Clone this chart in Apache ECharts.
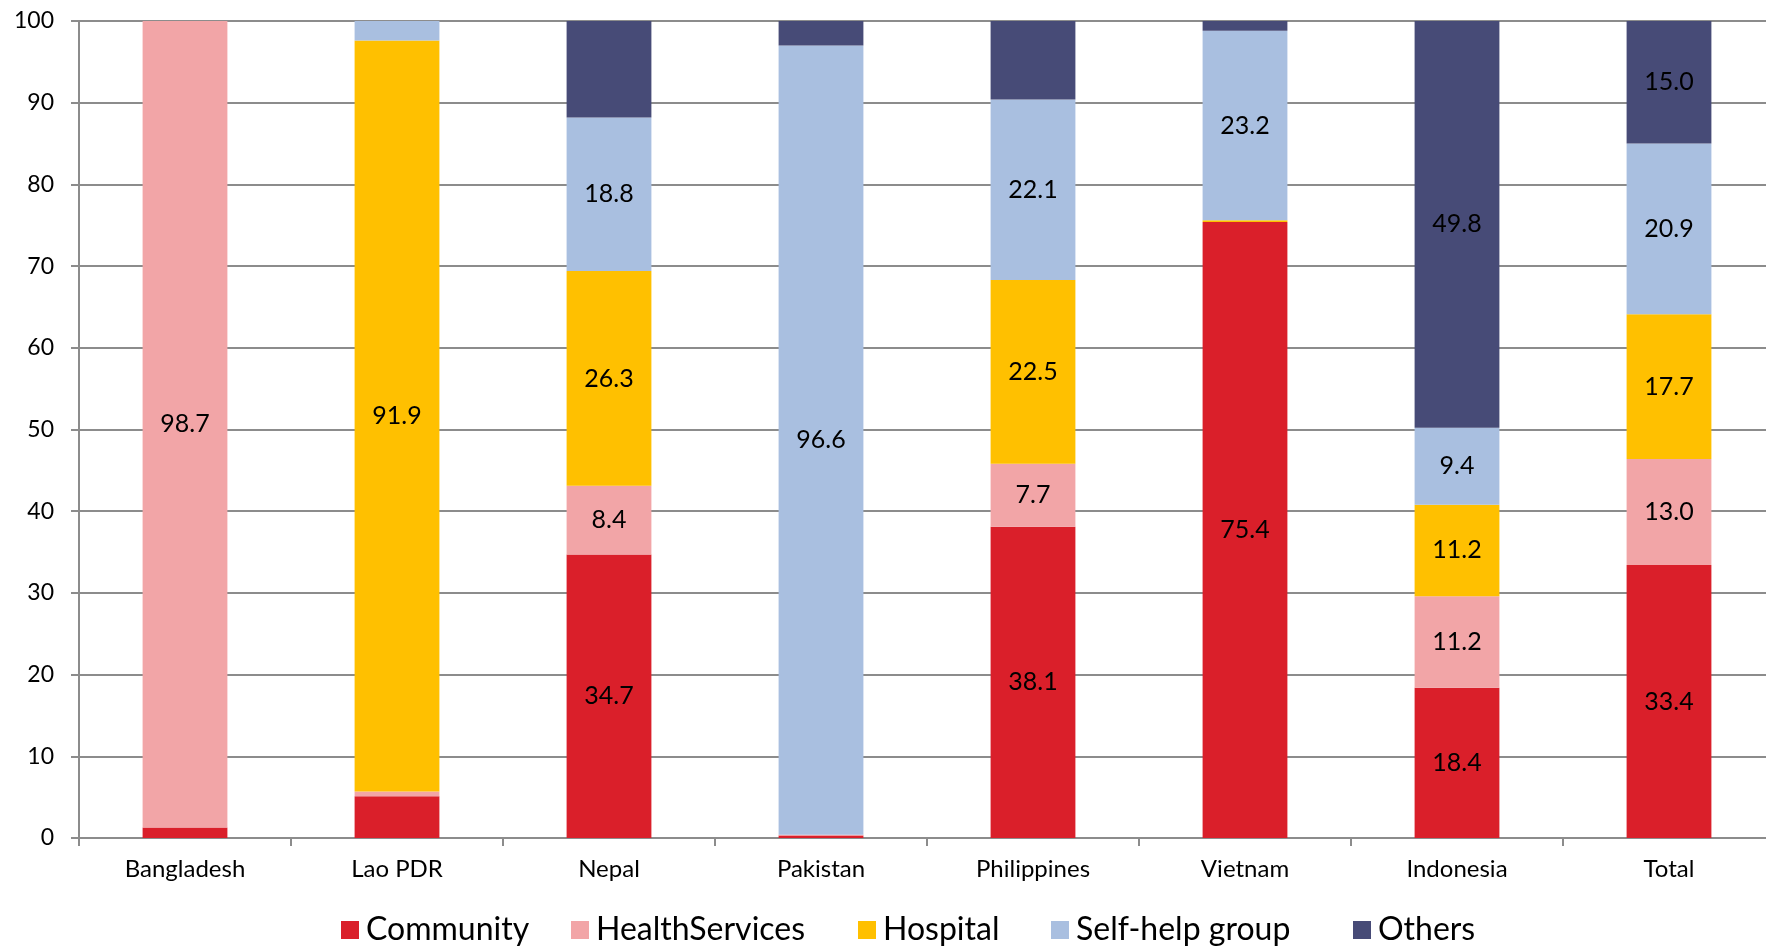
<!DOCTYPE html>
<html>
<head>
<meta charset="utf-8">
<script src="https://cdn.jsdelivr.net/npm/echarts@6/dist/echarts.min.js"></script>
<style>
  html, body { margin: 0; padding: 0; background: #fff; overflow: hidden; }
  /* plot area runs past the right edge of the page, so the canvas is a little wider */
  #chart { width: 1776px; height: 947px; }
</style>
</head>
<body>
<div id="chart"></div>
<script>
// Share of respondents by source of support (%), per country
const categories = ['Bangladesh', 'Lao PDR', 'Nepal', 'Pakistan', 'Philippines', 'Vietnam', 'Indonesia', 'Total'];
const community      = [1.3, 5.1, 34.7, 0.3, 38.1, 75.4, 18.4, 33.4];
const healthServices = [98.7, 0.6, 8.4, 0.1, 7.7, 0, 11.2, 13.0];
const hospital       = [0, 91.9, 26.3, 0, 22.5, 0.2, 11.2, 17.7];
const selfHelpGroup  = [0, 2.4, 18.8, 96.6, 22.1, 23.2, 9.4, 20.9];
const others         = [0, 0, 11.8, 3.0, 9.6, 1.2, 49.8, 15.0];
const yTicks = [0, 10, 20, 30, 40, 50, 60, 70, 80, 90, 100];

const FONT = 'Lato, "Noto Sans", sans-serif';
// minLabel: smallest segment that carries a value label; legendX: legend entry position
const seriesDefs = [
  { name: 'Community', data: community, color: '#DA1F2A', minLabel: 7, legendX: 336 },
  { name: 'HealthServices', data: healthServices, color: '#F2A5A7', minLabel: 7, legendX: 566 },
  { name: 'Hospital', data: hospital, color: '#FFC000', minLabel: 7, legendX: 853 },
  { name: 'Self-help group', data: selfHelpGroup, color: '#A9BFE0', minLabel: 7, legendX: 1046 },
  { name: 'Others', data: others, color: '#474B77', minLabel: 12, legendX: 1348 }
];

const chart = echarts.init(document.getElementById('chart'));
chart.setOption({
  animation: false,
  backgroundColor: '#ffffff',
  textStyle: { fontFamily: FONT },
  grid: { left: 79, top: 21, right: 1, bottom: 109, containLabel: false },
  legend: seriesDefs.map(s => ({
    top: 909,
    left: s.legendX,
    itemWidth: 18,
    itemHeight: 18,
    icon: 'rect',
    textStyle: { fontSize: 32, color: '#000', fontFamily: FONT, padding: [0, 0, 0, 2] },
    data: [s.name]
  })),
  xAxis: {
    type: 'category',
    data: categories,
    axisLine: { lineStyle: { color: '#8c8c8c', width: 2 } },
    axisTick: { show: true, alignWithLabel: false, length: 8, lineStyle: { color: '#8c8c8c', width: 2 } },
    axisLabel: { color: '#000', fontSize: 24, margin: 19, fontFamily: FONT }
  },
  yAxis: {
    type: 'value',
    min: yTicks[0],
    max: yTicks[yTicks.length - 1],
    interval: yTicks[1] - yTicks[0],
    axisLine: { show: true, lineStyle: { color: '#8c8c8c', width: 2 } },
    axisTick: { show: true, length: 8, lineStyle: { color: '#8c8c8c', width: 2 } },
    splitLine: { lineStyle: { color: '#8c8c8c', width: 2 } },
    axisLabel: { color: '#000', fontSize: 23, margin: 25, fontFamily: FONT }
  },
  series: seriesDefs.map(s => ({
    name: s.name,
    type: 'bar',
    stack: 'total',
    barWidth: '40%',
    data: s.data,
    itemStyle: { color: s.color },
    label: {
      show: true,
      position: 'inside',
      color: '#000',
      fontSize: 25,
      fontFamily: FONT,
      formatter: p => (p.value >= s.minLabel ? p.value.toFixed(1) : '')
    }
  }))
});
</script>
</body>
</html>
